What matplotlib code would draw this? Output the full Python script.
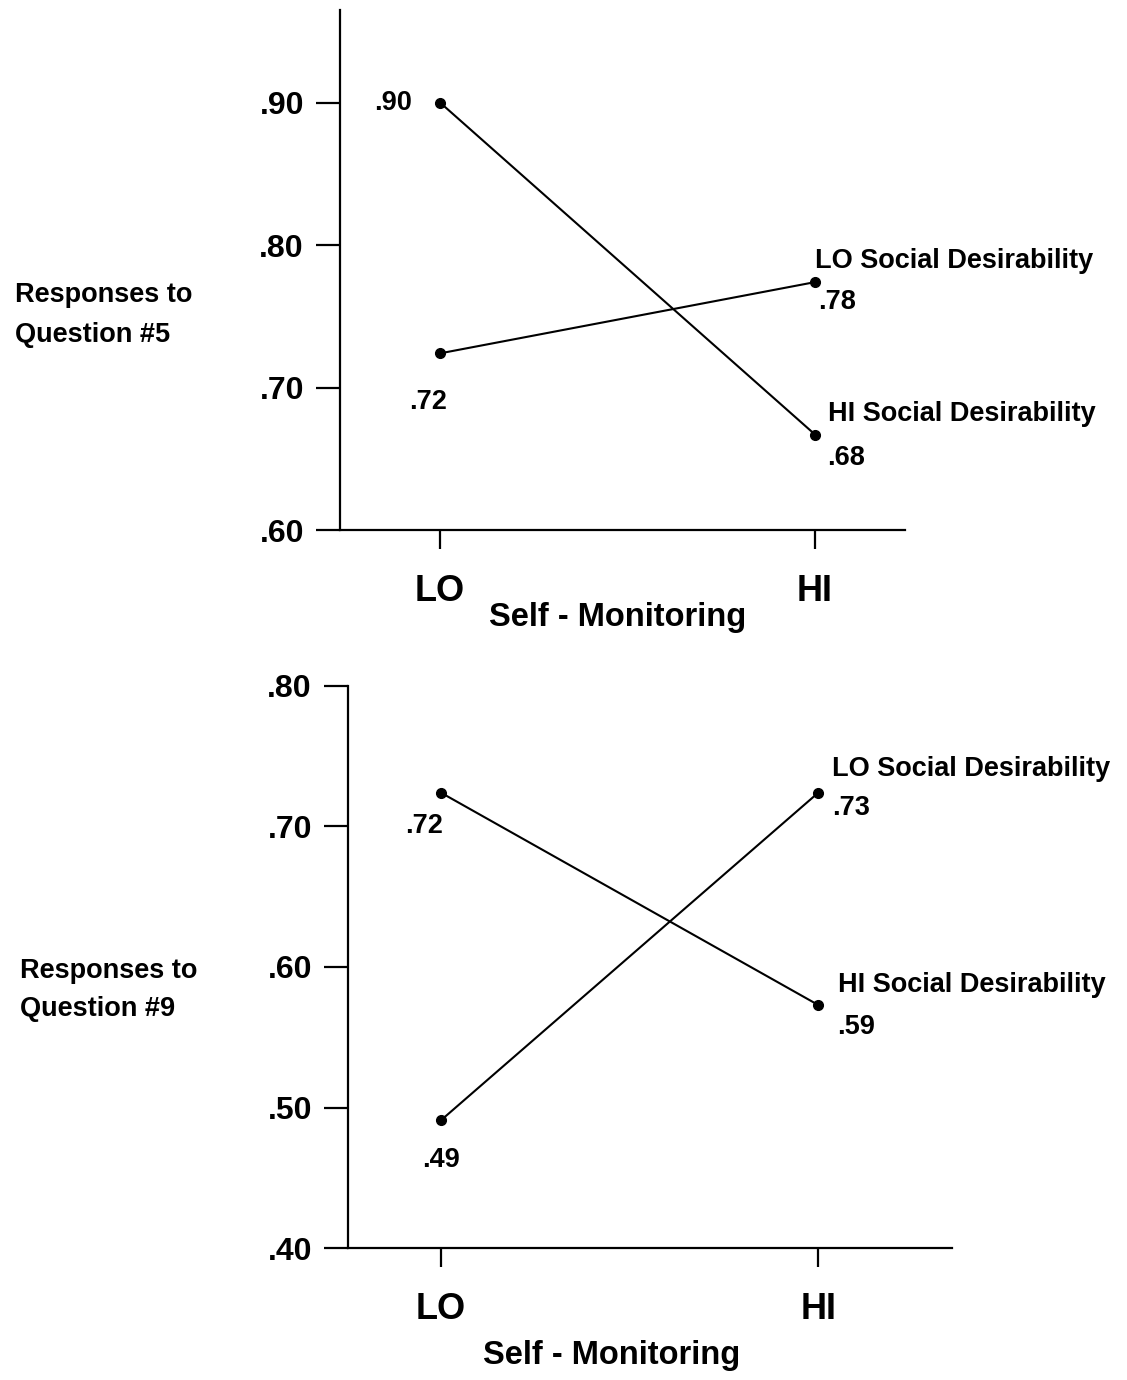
import numpy as np
import matplotlib
matplotlib.use('Agg')
from matplotlib import pyplot as plt

plt.rcParams['font.family'] = ['Liberation Sans', 'DejaVu Sans']

# data
levels = ['LO', 'HI']

q5_lo_sd = [0.724, 0.774]
q5_hi_sd = [0.900, 0.667]
q5_lo_labels = ['.72', '.78']
q5_hi_labels = ['.90', '.68']
q5_ticks = [0.60, 0.70, 0.80, 0.90]
q5_ticklabels = ['.60', '.70', '.80', '.90']

q9_lo_sd = [0.491, 0.724]
q9_hi_sd = [0.724, 0.573]
q9_lo_labels = ['.49', '.73']
q9_hi_labels = ['.72', '.59']
q9_ticks = [0.40, 0.50, 0.60, 0.70, 0.80]
q9_ticklabels = ['.40', '.50', '.60', '.70', '.80']

W, H = 1127, 1380
fig = plt.figure(figsize=(W/100, H/100), dpi=100)


def px_box(x0, y0, x1, y1):
    return [x0/W, 1 - y1/H, (x1 - x0)/W, (y1 - y0)/H]


def style_axes(ax, ticks, ticklabels):
    for s in ['top', 'right']:
        ax.spines[s].set_visible(False)
    for s in ['left', 'bottom']:
        ax.spines[s].set_linewidth(1.6)
    ax.set_xticks([0, 1])
    ax.set_xticklabels(levels, fontsize=26, fontweight='bold')
    ax.set_yticks(ticks)
    ax.set_yticklabels(ticklabels, fontsize=23, fontweight='bold')
    ax.tick_params(axis='y', direction='out', length=17, width=1.6, pad=9)
    ax.tick_params(axis='x', direction='out', length=14, width=1.6, pad=18)


def draw_line(ax, vals):
    ax.plot([0, 1], vals, '-', color='black', lw=1.5,
            marker='o', markersize=7, clip_on=False)


def note(ax, txt, x, y, dx, dy, ha='left', size=19.5):
    ax.annotate(txt, xy=(x, y), xytext=(dx, dy), textcoords='offset points',
                ha=ha, va='center', fontsize=size, fontweight='bold')


# top panel
ax1 = fig.add_axes(px_box(340, 10, 905, 530))
ax1.set_xlim(-0.267, 1.24)
ax1.set_ylim(0.60, 0.965)
style_axes(ax1, q5_ticks, q5_ticklabels)
draw_line(ax1, q5_lo_sd)
draw_line(ax1, q5_hi_sd)
ax1.set_xlabel('Self - Monitoring', fontsize=23.5, fontweight='bold', va='center')
ax1.xaxis.set_label_coords(0.492, -0.169)

note(ax1, q5_hi_labels[0], 0, q5_hi_sd[0], -20, 0, ha='right')
note(ax1, q5_lo_labels[0], 0, q5_lo_sd[0], -9, -35, ha='center')
note(ax1, 'LO Social Desirability', 1, q5_lo_sd[1], 0, 15)
note(ax1, q5_lo_labels[1], 1, q5_lo_sd[1], 2, -14)
note(ax1, 'HI Social Desirability', 1, q5_hi_sd[1], 9, 15)
note(ax1, q5_hi_labels[1], 1, q5_hi_sd[1], 9, -17)

# bottom panel
ax2 = fig.add_axes(px_box(348, 686, 952, 1248))
ax2.set_xlim(-0.247, 1.355)
ax2.set_ylim(0.40, 0.80)
style_axes(ax2, q9_ticks, q9_ticklabels)
draw_line(ax2, q9_lo_sd)
draw_line(ax2, q9_hi_sd)
ax2.set_xlabel('Self - Monitoring', fontsize=23.5, fontweight='bold', va='center')
ax2.xaxis.set_label_coords(0.437, -0.192)

note(ax2, q9_hi_labels[0], 0, q9_hi_sd[0], -12, -24, ha='center')
note(ax2, q9_lo_labels[0], 0, q9_lo_sd[0], 0, -29, ha='center')
note(ax2, 'LO Social Desirability', 1, q9_lo_sd[1], 10, 17)
note(ax2, q9_lo_labels[1], 1, q9_lo_sd[1], 10, -11)
note(ax2, 'HI Social Desirability', 1, q9_hi_sd[1], 14, 14)
note(ax2, q9_hi_labels[1], 1, q9_hi_sd[1], 14, -16)

fig.text(15/W, 1 - 315/H, 'Responses to\nQuestion #5', ha='left', va='center',
         fontsize=19.5, fontweight='bold', linespacing=1.65)
fig.text(20/W, 1 - 990/H, 'Responses to\nQuestion #9', ha='left', va='center',
         fontsize=19.5, fontweight='bold', linespacing=1.65)

fig.savefig('out.png', dpi=100)
